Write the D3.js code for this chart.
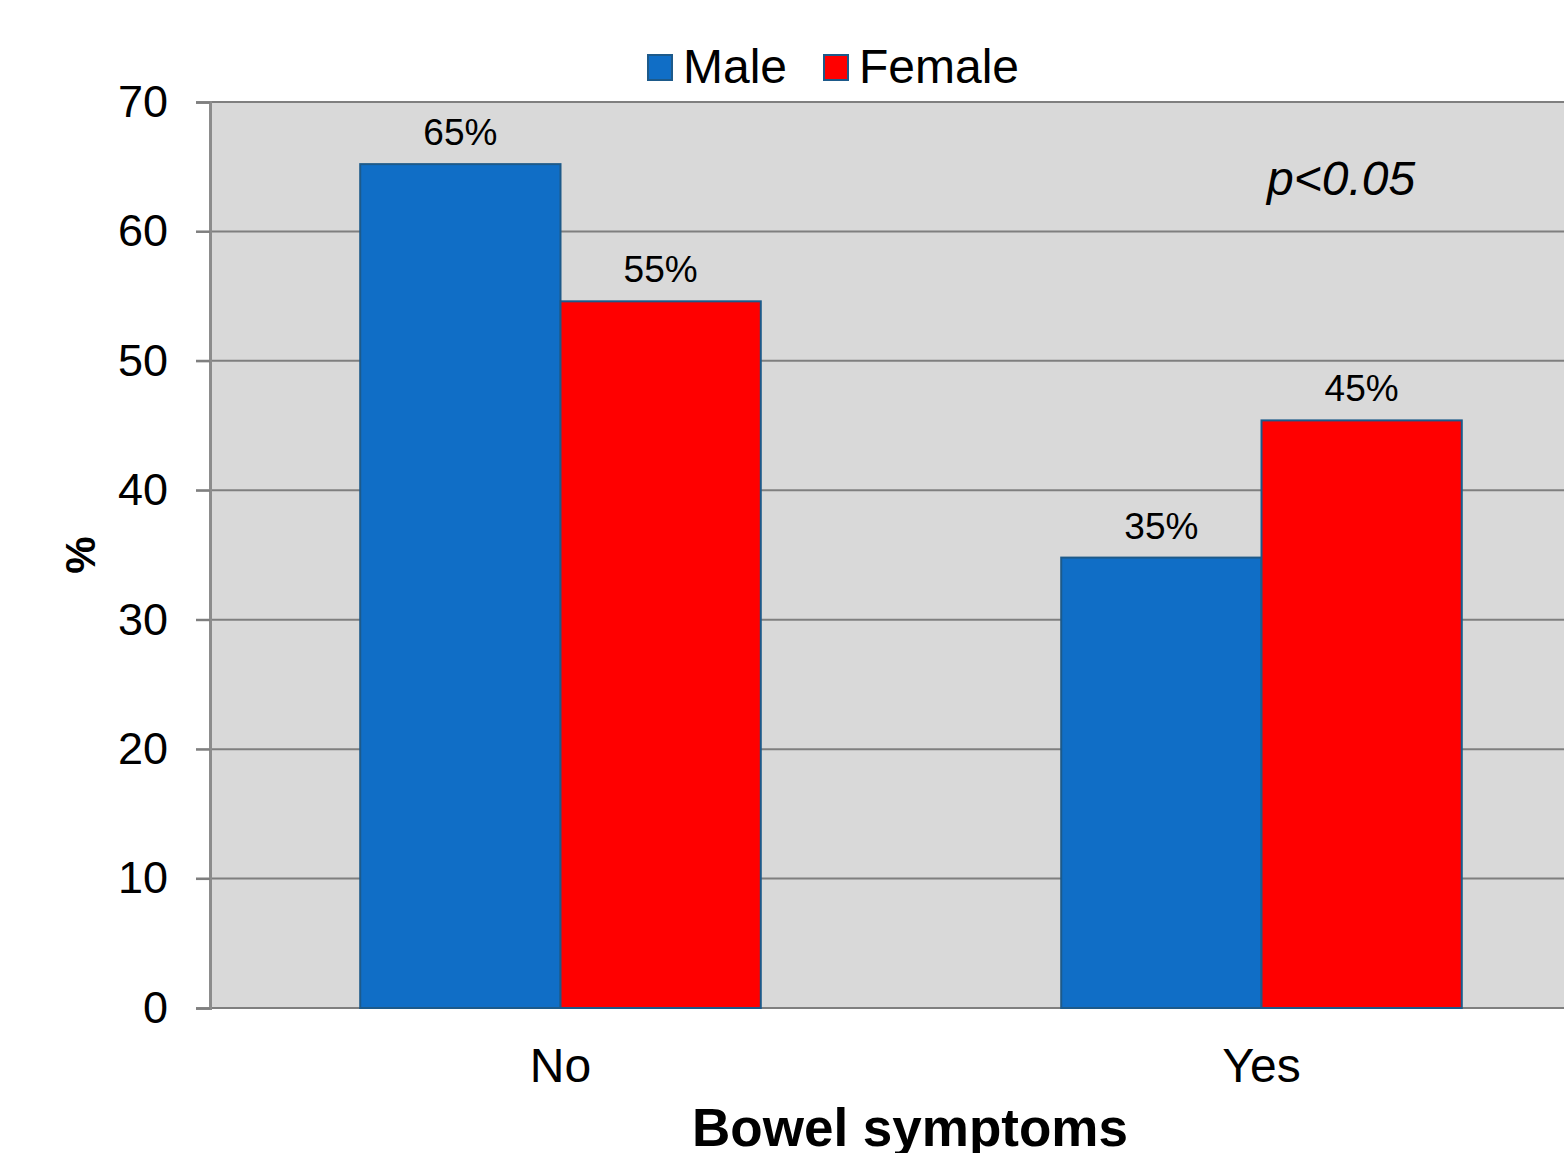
<!DOCTYPE html>
<html>
<head>
<meta charset="utf-8">
<script src="https://cdn.jsdelivr.net/npm/d3@7"></script>
<style>
  html, body { margin: 0; padding: 0; background: #ffffff; }
  svg { display: block; font-family: "Liberation Sans", Arial, sans-serif; }
</style>
</head>
<body>
<svg id="chart" width="1564" height="1153"></svg>
<script>
// Share of respondents by bowel symptoms, split by sex
const categories = ["No", "Yes"];
const seriesNames = ["Male", "Female"];
const maleValues = [65.2, 34.8];
const femaleValues = [54.6, 45.4];
const yTicks = [0, 10, 20, 30, 40, 50, 60, 70];
const colors = ["#106ec6", "#ff0000"];

const rows = categories.map((c, i) => ({ category: c, values: [maleValues[i], femaleValues[i]] }));

const svg = d3.select("#chart");
const margin = { left: 210, top: 102 };
const plotW = 1402, plotH = 906;

const x = d3.scaleBand().domain(categories).range([margin.left, margin.left + plotW]).paddingInner(0).paddingOuter(0);
const xSub = d3.scaleBand().domain(seriesNames).range([0, x.bandwidth()]).paddingInner(0).paddingOuter(0.75);
const y = d3.scaleLinear().domain([0, 70]).range([margin.top + plotH, margin.top]);

// plot background
svg.append("rect")
  .attr("x", margin.left).attr("y", margin.top)
  .attr("width", plotW).attr("height", plotH)
  .attr("fill", "#d9d9d9");

// gridlines
svg.append("g")
  .selectAll("line").data(yTicks).join("line")
  .attr("x1", margin.left - 14).attr("x2", margin.left + plotW)
  .attr("y1", d => y(d)).attr("y2", d => y(d))
  .attr("stroke", "#7f7f7f").attr("stroke-width", 2);

// y axis
const yAxis = svg.append("g")
  .attr("transform", `translate(${margin.left},0)`)
  .call(d3.axisLeft(y).tickValues(yTicks).tickSize(14).tickPadding(28));
yAxis.select(".domain").attr("stroke", "#8c8c8c").attr("stroke-width", 3);
yAxis.selectAll(".tick line").attr("stroke", "#7f7f7f").attr("stroke-width", 2);
yAxis.selectAll(".tick text")
  .attr("font-size", 45).attr("fill", "#000")
  .attr("font-family", "'Liberation Sans', Arial, sans-serif");

// bars
const groups = svg.append("g").selectAll("g").data(rows).join("g")
  .attr("transform", d => `translate(${x(d.category)},0)`);

groups.selectAll("rect")
  .data(d => d.values.map((v, i) => ({ name: seriesNames[i], value: v, i })))
  .join("rect")
  .attr("x", d => xSub(d.name))
  .attr("y", d => y(d.value))
  .attr("width", xSub.bandwidth())
  .attr("height", d => y(0) - y(d.value))
  .attr("fill", d => colors[d.i])
  .attr("stroke", "#1d5a8a").attr("stroke-width", 2);

groups.selectAll("text.val")
  .data(d => d.values.map((v, i) => ({ name: seriesNames[i], value: v })))
  .join("text")
  .attr("class", "val")
  .attr("x", d => xSub(d.name) + xSub.bandwidth() / 2)
  .attr("y", d => y(d.value) - 19)
  .attr("text-anchor", "middle")
  .attr("font-size", 37)
  .text(d => d3.format(".0f")(d.value) + "%");

// x category labels
svg.append("g").selectAll("text").data(categories).join("text")
  .attr("x", d => x(d) + x.bandwidth() / 2)
  .attr("y", 1082)
  .attr("text-anchor", "middle")
  .attr("font-size", 48)
  .text(d => d);

// axis titles
svg.append("text")
  .attr("x", 910).attr("y", 1146)
  .attr("text-anchor", "middle")
  .attr("font-size", 53).attr("font-weight", "bold")
  .text("Bowel symptoms");

svg.append("text")
  .attr("transform", "translate(95,555) rotate(-90)")
  .attr("text-anchor", "middle")
  .attr("font-size", 42).attr("font-weight", "bold")
  .text("%");

// significance annotation
svg.append("text")
  .attr("x", 1267).attr("y", 195)
  .attr("font-size", 48).attr("font-style", "italic")
  .text("p<0.05");

// legend
const legend = svg.append("g");
const legendItems = [{ name: "Male", x: 648 }, { name: "Female", x: 824 }];
legendItems.forEach((d, i) => {
  legend.append("rect")
    .attr("x", d.x).attr("y", 55).attr("width", 24).attr("height", 25)
    .attr("fill", colors[i]).attr("stroke", "#1d5a8a").attr("stroke-width", 2);
  legend.append("text")
    .attr("x", d.x + 35).attr("y", 83)
    .attr("font-size", 48)
    .text(d.name);
});
</script>
</body>
</html>
